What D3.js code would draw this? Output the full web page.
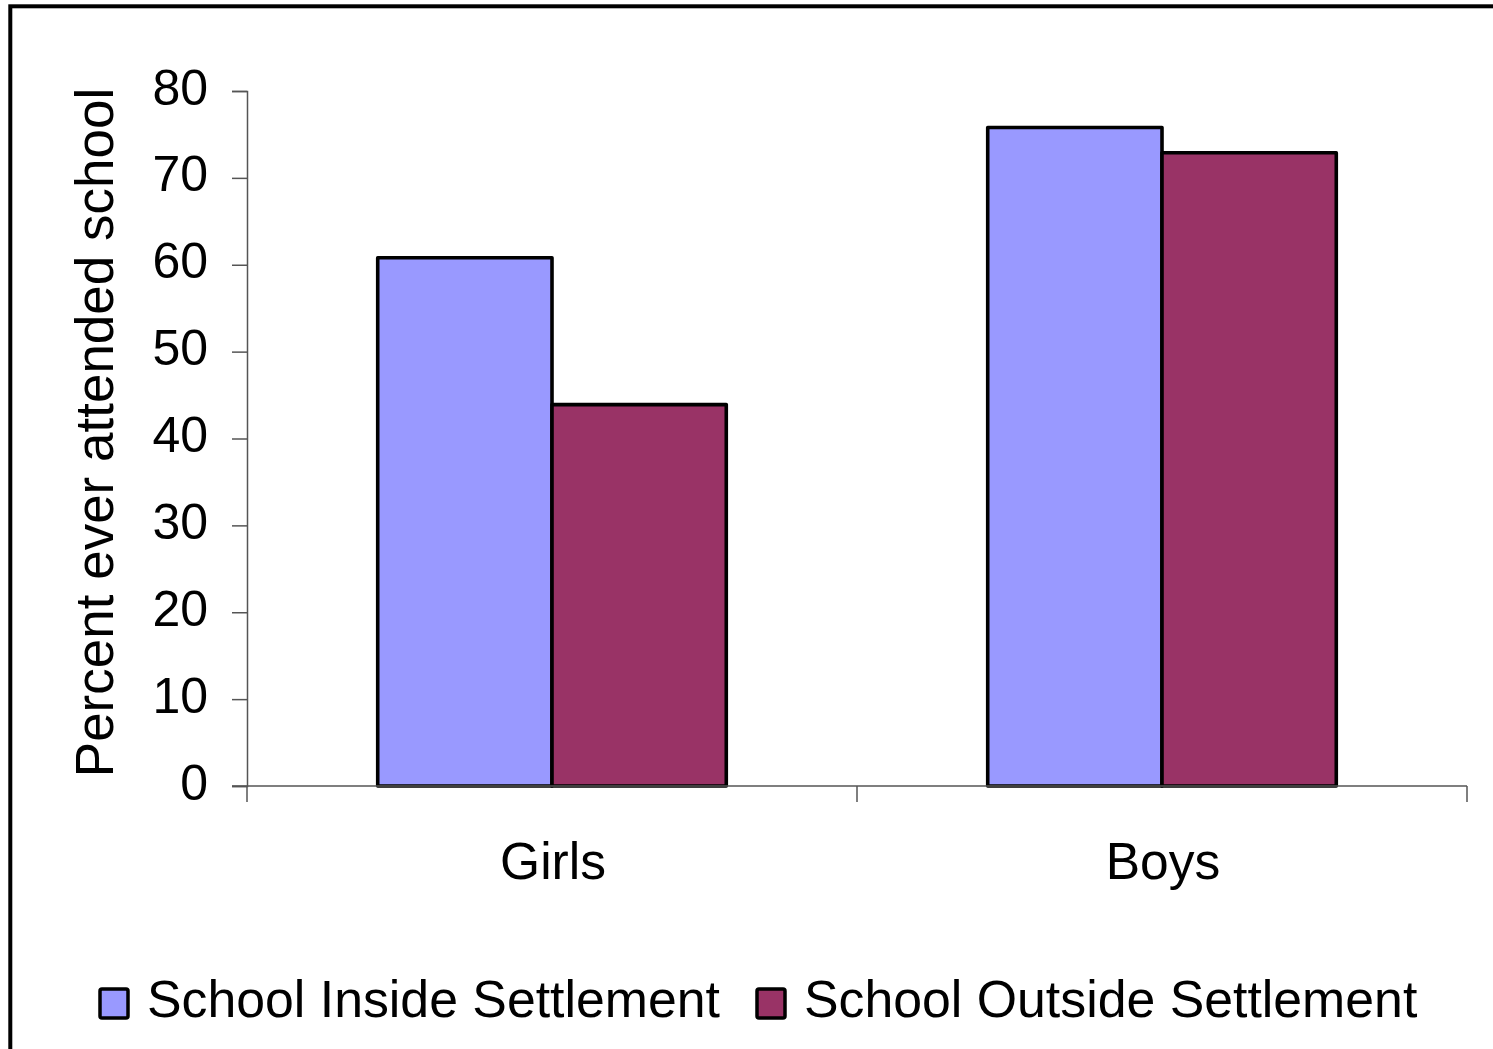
<!DOCTYPE html>
<html>
<head>
<meta charset="utf-8">
<script src="https://cdn.jsdelivr.net/npm/d3@7"></script>
<style>
  html, body { margin: 0; padding: 0; background: #fff; }
  svg { display: block; }
  text { font-family: "Liberation Sans", Arial, sans-serif; fill: #000; }
</style>
</head>
<body>
<svg id="chart" width="1493" height="1049"></svg>
<script>
const categories = ["Girls", "Boys"];
const seriesNames = ["School Inside Settlement", "School Outside Settlement"];
const insideValues = [60.8, 75.8];
const outsideValues = [43.9, 72.9];
const yTicks = [0, 10, 20, 30, 40, 50, 60, 70, 80];
const colors = ["#9999FF", "#993366"];

const svg = d3.select("#chart");

// outer frame
svg.append("rect")
  .attr("x", 10.3).attr("y", 6.3)
  .attr("width", 1600).attr("height", 1200)
  .attr("fill", "none").attr("stroke", "#000").attr("stroke-width", 4);

const plotLeft = 247, plotRight = 1467, plotTop = 91, plotBottom = 786;

const x0 = d3.scaleBand().domain(categories).range([plotLeft, plotRight]).paddingInner(0).paddingOuter(0);
const x1 = d3.scaleBand().domain(seriesNames).range([0, x0.bandwidth()]).paddingInner(0).paddingOuter(0.75);
const y = d3.scaleLinear().domain([0, 80]).range([plotBottom, plotTop]);

const data = categories.map((c, i) => ({
  cat: c,
  vals: [
    { s: seriesNames[0], v: insideValues[i], c: colors[0] },
    { s: seriesNames[1], v: outsideValues[i], c: colors[1] }
  ]
}));

// bars
const g = svg.append("g");
data.forEach(d => {
  g.selectAll(null).data(d.vals).enter().append("rect")
    .attr("x", v => x0(d.cat) + x1(v.s))
    .attr("y", v => y(v.v))
    .attr("width", x1.bandwidth())
    .attr("height", v => y(0) - y(v.v))
    .attr("fill", v => v.c)
    .attr("stroke", "#000")
    .attr("stroke-width", 3.6)
    .attr("stroke-linejoin", "round");
});

// y axis
const yAxis = d3.axisLeft(y).tickValues(yTicks).tickSize(15).tickPadding(24).tickFormat(d3.format("d"));
const yg = svg.append("g").attr("transform", `translate(${plotLeft},0)`).call(yAxis);
yg.select(".domain").attr("stroke", "#555").attr("stroke-width", 1.5);
yg.selectAll(".tick line").attr("stroke", "#555").attr("stroke-width", 1.5);
yg.selectAll(".tick text").attr("font-size", 50).attr("font-family", "Liberation Sans, Arial, sans-serif").attr("fill", "#000").attr("dy", "0.26em");

// x axis
const xTickPos = [plotLeft, x0("Boys"), plotRight];
svg.append("line").attr("x1", plotLeft - 15).attr("x2", plotRight)
  .attr("y1", plotBottom).attr("y2", plotBottom)
  .attr("stroke", "#555").attr("stroke-width", 1.5);
svg.selectAll(".xtick").data(xTickPos).enter().append("line")
  .attr("x1", d => d).attr("x2", d => d)
  .attr("y1", plotBottom).attr("y2", plotBottom + 16)
  .attr("stroke", "#555").attr("stroke-width", 1.5);
svg.selectAll(".xlab").data(categories).enter().append("text")
  .attr("x", d => x0(d) + x0.bandwidth() / 2 + 1)
  .attr("y", 879)
  .attr("text-anchor", "middle")
  .attr("font-size", 51.5)
  .text(d => d);

// y title
svg.append("text")
  .attr("transform", "translate(113,432.5) rotate(-90)")
  .attr("text-anchor", "middle")
  .attr("font-size", 53)
  .text("Percent ever attended school");

// legend
const legendItems = [
  { name: seriesNames[0], color: colors[0], sx: 100, tx: 147 },
  { name: seriesNames[1], color: colors[1], sx: 757, tx: 804 }
];
const lg = svg.append("g");
legendItems.forEach(it => {
  lg.append("rect").attr("x", it.sx).attr("y", 989).attr("width", 28).attr("height", 29)
    .attr("rx", 2).attr("fill", it.color).attr("stroke", "#000").attr("stroke-width", 3.5);
  lg.append("text").attr("x", it.tx).attr("y", 1017).attr("font-size", 51.8).text(it.name);
});
</script>
</body>
</html>
